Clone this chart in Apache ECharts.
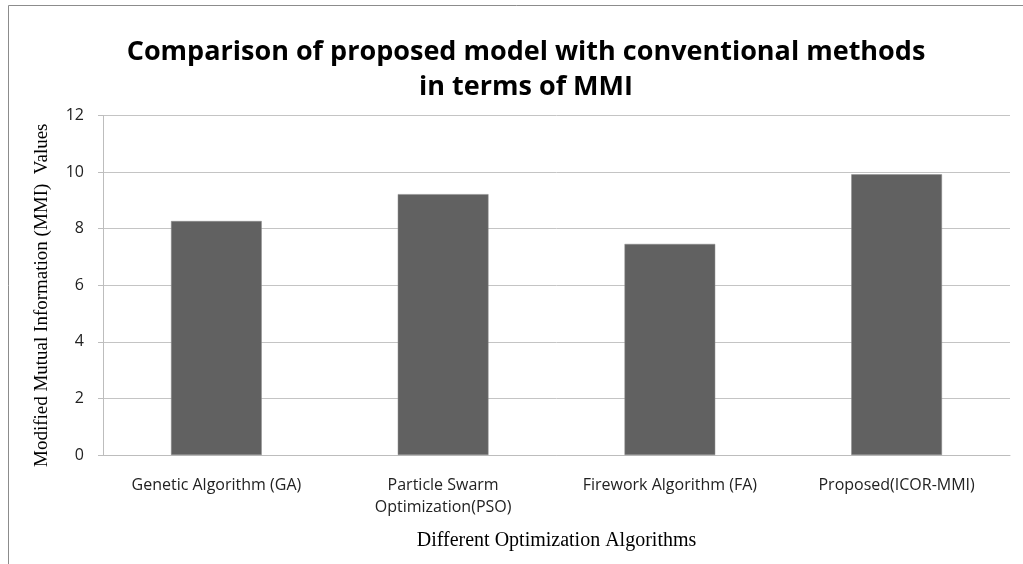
<!DOCTYPE html>
<html>
<head>
<meta charset="utf-8">
<script src="https://cdn.jsdelivr.net/npm/echarts@6/dist/echarts.min.js"></script>
<style>html,body{margin:0;padding:0;background:#fff;}#c{width:1023px;height:564px;}</style>
</head>
<body>
<div id="c"></div>
<script>
const categories = ['Genetic Algorithm (GA)', 'Particle Swarm\nOptimization(PSO)', 'Firework Algorithm (FA)', 'Proposed(ICOR-MMI)'];
const mmiValues = [8.27, 9.22, 7.46, 9.92];
const yTicks = [0, 2, 4, 6, 8, 10, 12];
const titleText = 'Comparison of proposed model with conventional methods\nin terms of MMI';
const yName = 'Modified Mutual Information (MMI)  Values';
const xName = 'Different Optimization Algorithms';

const chart = echarts.init(document.getElementById('c'), null, {renderer: 'canvas'});
chart.setOption({
  animation: false,
  backgroundColor: '#fff',
  graphic: [{
    type: 'rect', shape: {x: 8.5, y: 5.5, width: 1100, height: 700},
    style: {fill: 'none', stroke: '#8c8c8c', lineWidth: 1}, silent: true
  }],
  title: {
    text: titleText,
    left: 521, top: 30, textAlign: 'center',
    textStyle: {fontFamily: 'Open Sans', fontWeight: 'bold', fontSize: 27, lineHeight: 35, color: '#000'}
  },
  grid: {left: 103, right: 13, top: 115.5, bottom: 109, containLabel: false},
  xAxis: {
    type: 'category', data: categories,
    name: xName, nameLocation: 'middle', nameGap: 76,
    nameTextStyle: {fontFamily: 'Liberation Serif', fontSize: 20, color: '#000'},
    axisLine: {lineStyle: {color: '#bdbdbd', width: 1}},
    axisTick: {show: false},
    axisLabel: {fontFamily: 'Open Sans', fontSize: 16, color: '#222', margin: 19, lineHeight: 22, interval: 0}
  },
  yAxis: {
    type: 'value', min: 0, max: 12, interval: 2,
    name: yName, nameLocation: 'middle', nameGap: 51,
    nameTextStyle: {fontFamily: 'Liberation Serif', fontSize: 19, color: '#000', padding: [0, 20, 0, 0]},
    axisLine: {show: true, lineStyle: {color: '#bdbdbd', width: 1}},
    axisTick: {show: true, length: 5, lineStyle: {color: '#bdbdbd'}},
    axisLabel: {fontFamily: 'Open Sans', fontSize: 16, color: '#222', margin: 19,
      formatter: v => yTicks.includes(v) ? String(v) : ''},
    splitLine: {lineStyle: {color: '#c4c4c4', width: 1}}
  },
  series: [{
    type: 'bar', data: mmiValues, barWidth: '40%',
    itemStyle: {color: '#616161', borderColor: '#8a8a8a', borderWidth: 0.5}
  }]
});
</script>
</body>
</html>
